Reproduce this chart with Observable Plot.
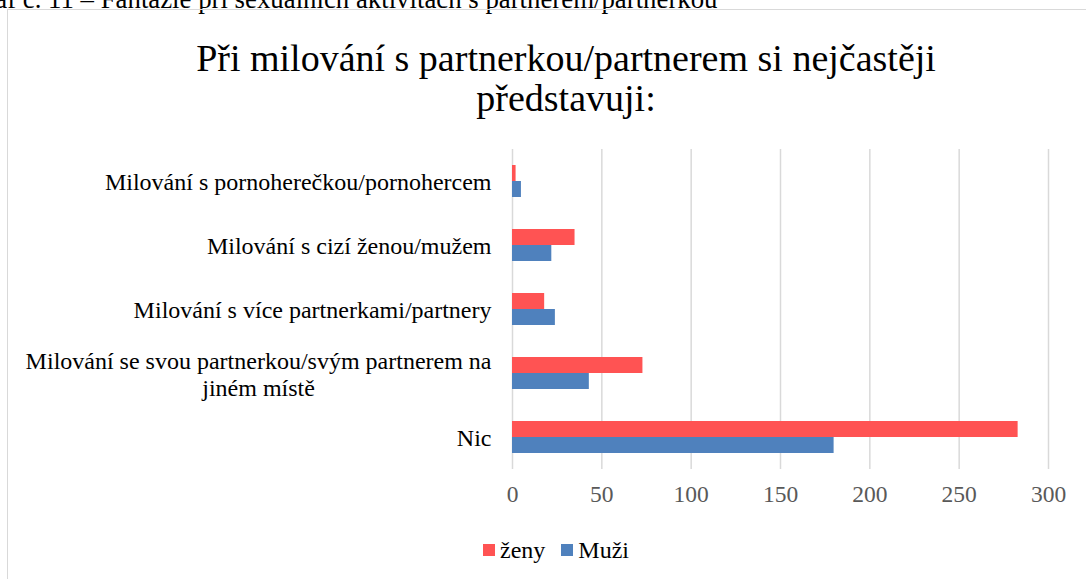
<!DOCTYPE html>
<html>
<head>
<meta charset="utf-8">
<script src="https://cdn.jsdelivr.net/npm/d3@7"></script>
<script src="https://cdn.jsdelivr.net/npm/@observablehq/plot@0.6"></script>
<style>
  html, body { margin: 0; padding: 0; background: #fff; overflow: hidden; }
  body { width: 1086px; height: 579px; position: relative; }
  .serif { font-family: 'Liberation Serif', serif !important; }
  #caption { position: absolute; left: -33px; top: -14px; font-size: 26.8px; line-height: 26.8px; white-space: nowrap; color: #000; }
  #frame { position: absolute; left: 7px; top: 9px; width: 1200px; height: 700px; border: 1.5px solid #d9d9d9; box-sizing: border-box; }
  #title { position: absolute; left: 0; width: 1132px; top: 38px; text-align: center; font-size: 38px; line-height: 40px; color: #000; }
  #chart { position: absolute; left: 0; top: 140px; }
  #legend { position: absolute; left: 0; width: 1112px; top: 534px; text-align: center; font-size: 24px; line-height: 28px; color: #000; }
  #legend span.item { display: inline-flex; align-items: center; margin: 0 8px; }
  #legend span.sw { display: inline-block; width: 12px; height: 12px; margin-right: 5px; }
  #chart svg, #chart svg text { font-family: 'Liberation Serif', serif !important; }
</style>
</head>
<body>
<div id="caption" class="serif">Graf č. 11 – Fantazie při sexuálních aktivitách s partnerem/partnerkou</div>
<div id="frame"></div>
<div id="title" class="serif">Při milování s partnerkou/partnerem si nejčastěji<br>představuji:</div>
<div id="chart"></div>
<div id="legend" class="serif"></div>
<script>
const categories = [
  "Milování s pornoherečkou/pornohercem",
  "Milování s cizí ženou/mužem",
  "Milování s více partnerkami/partnery",
  "Milování se svou partnerkou/svým partnerem na\njiném místě",
  "Nic"
];
const zeny = [2, 35, 18, 73, 283];
const muzi = [5, 22, 24, 43, 180];
const xTicks = [0, 50, 100, 150, 200, 250, 300];
const seriesNames = ["ženy", "Muži"];
const seriesColors = ["#FF5353", "#4F81BD"];

const rows = categories.map((c, i) => ({category: c, zeny: zeny[i], muzi: muzi[i]}));

const labelFont = 24;
const tickFont = 23.5;
const canvas = document.createElement("canvas");
const ctx = canvas.getContext("2d");
ctx.font = `${labelFont}px 'Liberation Serif'`;
const measure = s => Math.max(...s.split("\n").map(l => ctx.measureText(l).width));

const labelMarks = categories.map(c => Plot.text([c], {
  y: d => d,
  text: d => d,
  frameAnchor: "left",
  textAnchor: "middle",
  lineAnchor: "middle",
  lineHeight: 1.13,
  dx: -21 - measure(c) / 2,
  fontSize: labelFont,
  fill: "#000"
}));

const chart = Plot.plot({
  width: 1086,
  height: 380,
  marginLeft: 512,
  marginRight: 38,
  marginTop: 9,
  marginBottom: 51,
  x: {domain: [0, 300]},
  y: {domain: categories, padding: 0, axis: null},
  style: {fontFamily: "'Liberation Serif', serif", background: "transparent", overflow: "visible"},
  marks: [
    Plot.gridX(xTicks, {stroke: "#d9d9d9", strokeOpacity: 1, strokeWidth: 1.5}),
    Plot.barX(rows, {y: "category", x: "zeny", fill: seriesColors[0], insetTop: 16, insetBottom: 32}),
    Plot.barX(rows, {y: "category", x: "muzi", fill: seriesColors[1], insetTop: 32, insetBottom: 16}),
    Plot.axisX(xTicks, {tickSize: 0, tickPadding: 16, fontSize: tickFont, color: "#595959", label: null}),
    ...labelMarks
  ]
});
document.getElementById("chart").appendChild(chart);

const legend = document.getElementById("legend");
seriesNames.forEach((name, i) => {
  const item = document.createElement("span");
  item.className = "item";
  const sw = document.createElement("span");
  sw.className = "sw";
  sw.style.background = seriesColors[i];
  item.appendChild(sw);
  item.appendChild(document.createTextNode(name));
  legend.appendChild(item);
});
</script>
</body>
</html>
